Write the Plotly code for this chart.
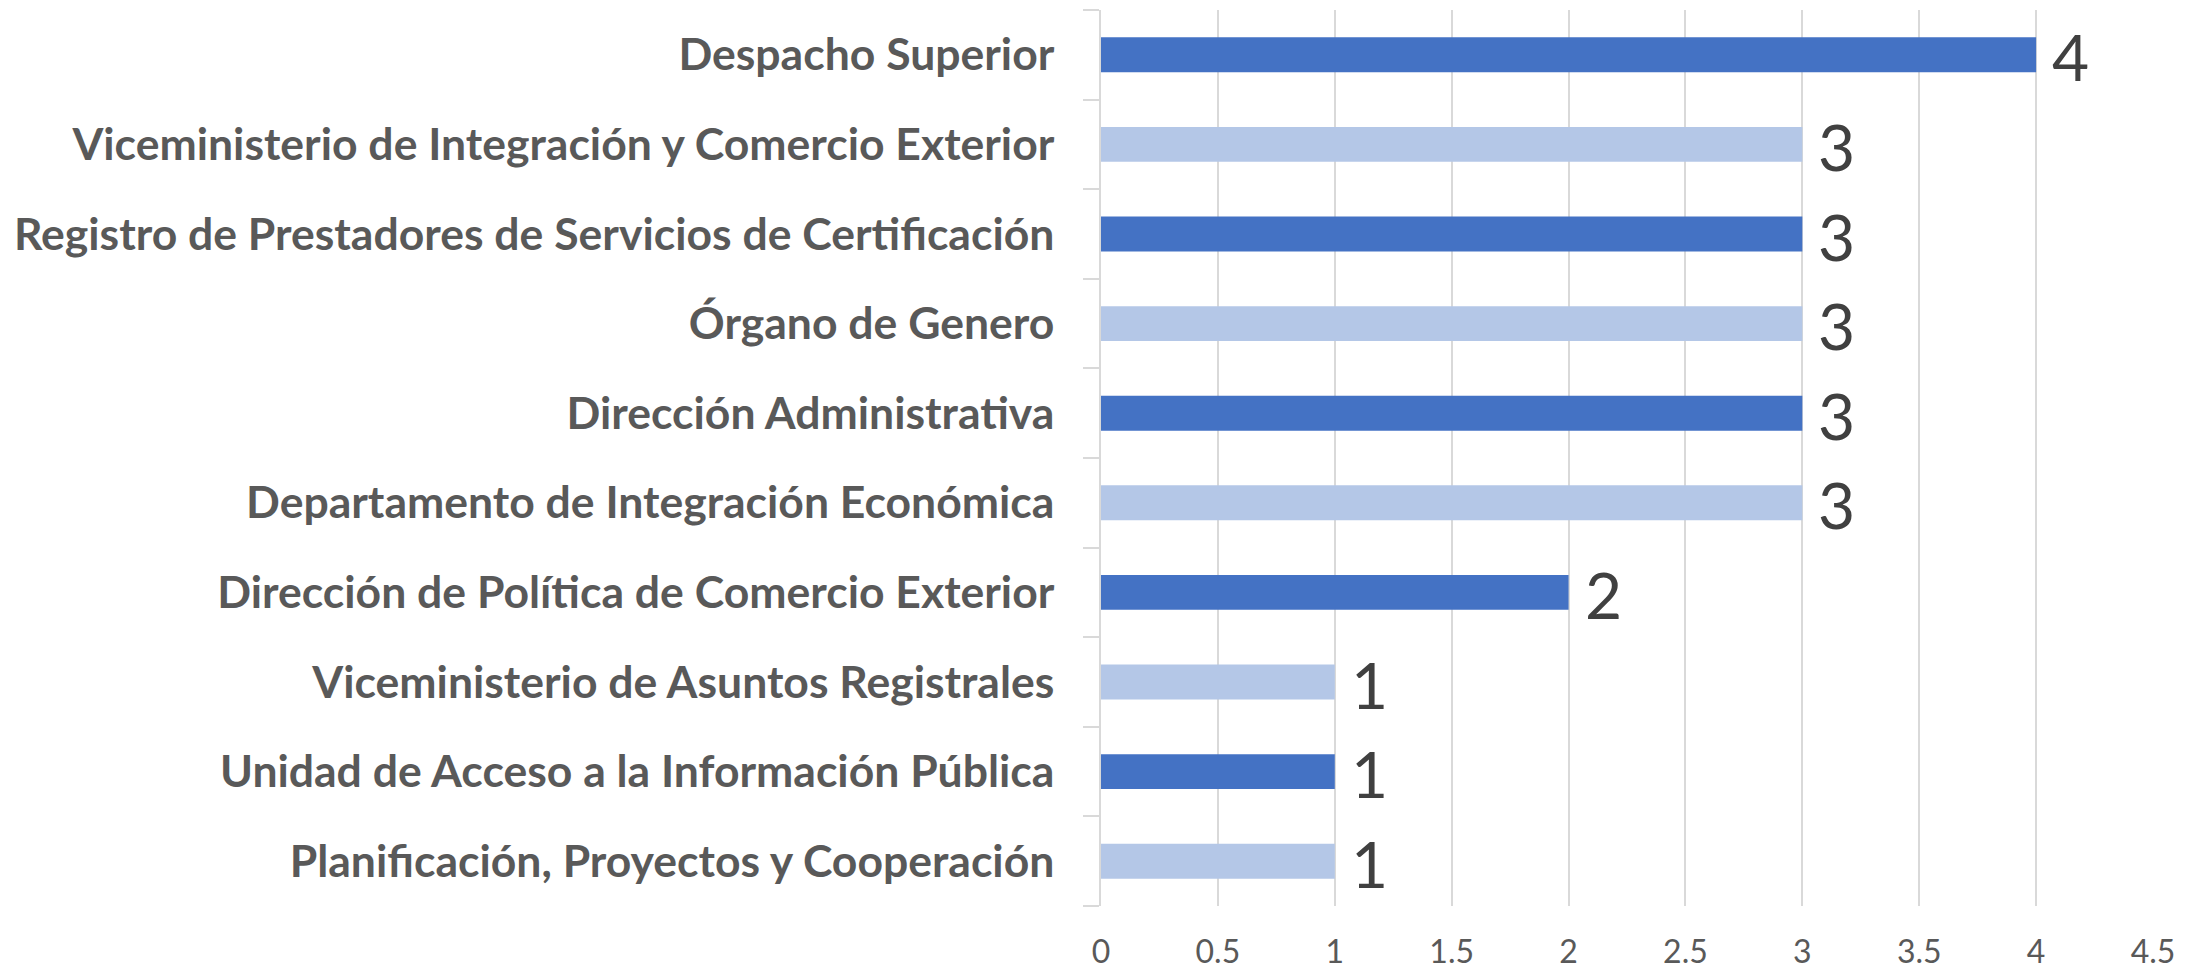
import plotly.graph_objects as go

categories = [
    "Despacho Superior",
    "Viceministerio de Integración y Comercio Exterior",
    "Registro de Prestadores de Servicios de Certificación",
    "Órgano de Genero",
    "Dirección Administrativa",
    "Departamento de Integración Económica",
    "Dirección de Política de Comercio Exterior",
    "Viceministerio de Asuntos Registrales",
    "Unidad de Acceso a la Información Pública",
    "Planificación, Proyectos y Cooperación",
]
values = [4, 3, 3, 3, 3, 3, 2, 1, 1, 1]
x_ticks = [0, 0.5, 1, 1.5, 2, 2.5, 3, 3.5, 4, 4.5]
x_tick_labels = ["0", "0.5", "1", "1.5", "2", "2.5", "3", "3.5", "4", "4.5"]

DARK = "#4472C4"
LIGHT = "#B4C7E7"
colors = [DARK if i % 2 == 0 else LIGHT for i in range(len(categories))]

fig = go.Figure()
fig.add_trace(go.Bar(
    y=categories,
    x=values,
    orientation="h",
    marker=dict(color=colors, line=dict(width=0)),
    hoverinfo="x+y",
))

for c, v in zip(categories, values):
    fig.add_annotation(
        x=v, y=c, xref="x", yref="y",
        text=str(v), showarrow=False,
        xanchor="left", yanchor="middle",
        xshift=14, yshift=-2,
        font=dict(family="Lato", size=64, color="#404040"),
    )

fig.update_layout(
    width=2189, height=970,
    margin=dict(l=1101, r=36, t=10, b=64, autoexpand=False),
    paper_bgcolor="white", plot_bgcolor="white",
    showlegend=False,
    bargap=0.61,
    xaxis=dict(
        range=[0, 4.5],
        tickvals=x_ticks, ticktext=x_tick_labels,
        showgrid=True, gridcolor="#D9D9D9", gridwidth=1.5,
        zeroline=False, showline=False, ticks="",
        tickfont=dict(family="Lato", size=32, color="#595959"),
        ticklabelstandoff=24,
        fixedrange=True,
    ),
    yaxis=dict(
        categoryorder="array", categoryarray=categories[::-1],
        showgrid=False, zeroline=False,
        showline=True, linecolor="#D9D9D9", linewidth=1.5,
        ticks="outside", tickson="boundaries", ticklen=16,
        tickcolor="#D9D9D9", tickwidth=1.5,
        tickfont=dict(family="Lato", size=44.5, color="#595959", weight="bold"),
        ticklabelstandoff=36,
        fixedrange=True,
    ),
)

fig.write_html(
    "out.html",
    config={"displayModeBar": False},
    post_script="document.body.style.margin='0';document.body.style.padding='0';",
)
